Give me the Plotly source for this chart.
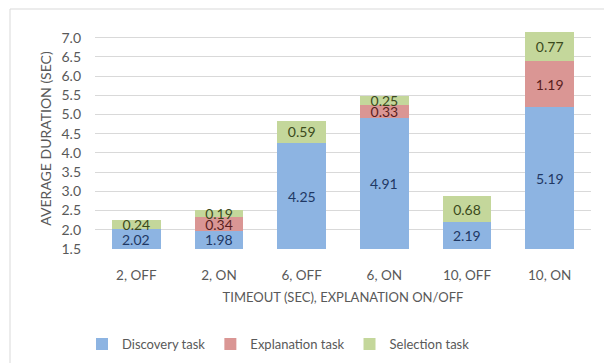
import plotly.graph_objects as go

categories = ["2, OFF", "2, ON", "6, OFF", "6, ON", "10, OFF", "10, ON"]
discovery = [2.02, 1.98, 4.25, 4.91, 2.19, 5.19]
explanation = [0, 0.34, 0, 0.33, 0, 1.19]
selection = [0.24, 0.19, 0.59, 0.25, 0.68, 0.77]

Y_MIN, Y_MAX = 1.5, 7.25
FONT = "Lato, Carlito, Calibri, sans-serif"
GREY = "#595959"


def labels(vals):
    return [f"{v:.2f}" if v > 0 else "" for v in vals]


series = [
    ("Discovery task", discovery, "#8db4e2", "#1f3864"),
    ("Explanation task", explanation, "#da9694", "#5a1e1e"),
    ("Selection task", selection, "#c4d79b", "#3b4a1c"),
]

fig = go.Figure()
for i, (name, vals, fill, txt) in enumerate(series):
    # bottom segments start below the axis floor, so their labels are placed
    # separately in the visible part of the bar
    fig.add_trace(go.Bar(
        x=categories, y=vals, name=name,
        marker=dict(color=fill, line=dict(width=0)),
        text=None if i == 0 else labels(vals), textposition="inside",
        insidetextanchor="middle",
        textfont=dict(family=FONT, size=14, color=txt),
    ))

annotations = [
    dict(x=c, y=(Y_MIN + v) / 2, text=f"{v:.2f}", showarrow=False,
         font=dict(family=FONT, size=14, color=series[0][3]))
    for c, v in zip(categories, discovery)
]

fig.update_layout(
    width=604, height=363,
    barmode="stack", bargap=0.41,
    paper_bgcolor="white", plot_bgcolor="white",
    margin=dict(l=95, r=13, t=28, b=114, autoexpand=False),
    font=dict(family=FONT, size=14, color=GREY),
    uniformtext=dict(minsize=14, mode="show"),
    showlegend=True,
    legend=dict(orientation="h", x=(82 - 95) / 496, xanchor="left", y=-0.43, yanchor="middle",
                font=dict(size=13, color=GREY), itemwidth=30, traceorder="normal"),
    annotations=annotations,
    shapes=[dict(type="rect", xref="paper", yref="paper",
                 x0=(10 - 95) / 496, x1=(640 - 95) / 496,
                 y0=-2, y1=(249 - 9) / 221,
                 line=dict(color="#d9d9d9", width=1), layer="below")],
)
fig.update_yaxes(
    range=[Y_MIN, Y_MAX], dtick=0.5, tick0=1.5, tickformat=".1f",
    showgrid=True, gridcolor="#d9d9d9", gridwidth=1, zeroline=False,
    showline=False, ticks="", tickfont=dict(size=14, color=GREY),
    ticklabelstandoff=13,
    title=dict(text="AVERAGE DURATION (SEC)", font=dict(size=14, color=GREY), standoff=6),
)
fig.update_xaxes(
    showline=False, ticks="", tickfont=dict(size=13.5, color=GREY),
    ticklabelstandoff=16,
    title=dict(text="TIMEOUT (SEC), EXPLANATION ON/OFF", font=dict(size=13, color=GREY), standoff=11),
)

fig.write_html("out.html")
